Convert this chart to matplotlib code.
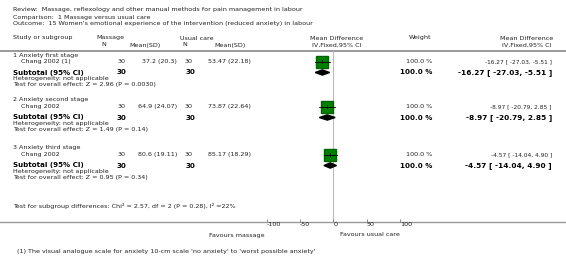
import matplotlib
matplotlib.use("Agg")
import matplotlib.pyplot as plt
from matplotlib.patches import Polygon

W, H = 566, 261
plt.rcParams['font.family'] = ['DejaVu Sans']

title_lines = [
    "Review:  Massage, reflexology and other manual methods for pain management in labour",
    "Comparison:  1 Massage versus usual care",
    "Outcome:  15 Women's emotional experience of the intervention (reduced anxiety) in labour",
]
subgroups = ["1 Anxiety first stage", "2 Anxiety second stage", "3 Anxiety third stage"]
studies = ["Chang 2002 (1)", "Chang 2002", "Chang 2002"]
n_massage = [30, 30, 30]
sd_massage = ["37.2 (20.3)", "64.9 (24.07)", "80.6 (19.11)"]
n_usual = [30, 30, 30]
sd_usual = ["53.47 (22.18)", "73.87 (22.64)", "85.17 (18.29)"]
md = [-16.27, -8.97, -4.57]
lo = [-27.03, -20.79, -14.04]
hi = [-5.51, 2.85, 4.90]
weights = ["100.0 %", "100.0 %", "100.0 %"]
z_tests = ["Z = 2.96 (P = 0.0030)", "Z = 1.49 (P = 0.14)", "Z = 0.95 (P = 0.34)"]
xticks = [-100, -50, 0, 50, 100]
subgroup_test = "Test for subgroup differences: Chi² = 2.57, df = 2 (P = 0.28), I² =22%"
footnote = "(1) The visual analogue scale for anxiety 10-cm scale 'no anxiety' to 'worst possible anxiety'"

fig = plt.figure(figsize=(W / 100, H / 100), dpi=100)
ax = fig.add_axes([0, 0, 1, 1])
ax.set_xlim(0, W)
ax.set_ylim(H, 0)
ax.axis('off')

# forest axes: x data -100..100 maps to px 266..400
x0, x1 = 266.5, 400
ax2 = fig.add_axes([x0 / W, 0, (x1 - x0) / W, 1])
ax2.set_xlim(-100, 100)
ax2.set_ylim(H, 0)
ax2.patch.set_alpha(0)

FS = 4.6
FSB = 5.1
TC = '#222222'

def t(x, y, s, ha='left', size=FS, weight='normal', color=TC):
    ax.text(x, y, s, ha=ha, va='center', fontsize=size, fontweight=weight, color=color)

for i, line in enumerate(title_lines):
    t(13, 10 + 7 * i, line)

t(13, 38, "Study or subgroup")
t(96, 38, "Massage")
t(180, 38, "Usual care")
t(104, 45, "N", ha='center')
t(145, 45, "Mean(SD)", ha='center')
t(185, 45, "N", ha='center')
t(230, 45, "Mean(SD)", ha='center')
t(337, 38, "Mean Difference", ha='center')
t(337, 45, "IV,Fixed,95% CI", ha='center')
t(420, 38, "Weight", ha='center')
t(527, 38, "Mean Difference", ha='center')
t(527, 45, "IV,Fixed,95% CI", ha='center')
ax.plot([0, W], [50.5, 50.5], color='#999999', lw=1.4)

starts = [55, 100, 148]
for i in range(3):
    y = starts[i]
    t(13, y, subgroups[i])
    ys = y + 6.5
    t(21, ys, studies[i])
    t(126, ys, str(n_massage[i]), ha='right')
    t(177, ys, sd_massage[i], ha='right')
    t(193, ys, str(n_usual[i]), ha='right')
    t(251, ys, sd_usual[i], ha='right')
    t(432, ys, weights[i], ha='right')
    t(552, ys, f"{md[i]:.2f} [ {lo[i]:.2f}, {hi[i]:.2f} ]", ha='right', size=4.2)
    yb = y + 17.5
    t(13, yb, "Subtotal (95% CI)", size=FSB, weight='bold', color='black')
    t(126, yb, str(n_massage[i]), ha='right', size=FSB, weight='bold', color='black')
    t(195, yb, str(n_usual[i]), ha='right', size=FSB, weight='bold', color='black')
    t(432, yb, weights[i], ha='right', size=FSB, weight='bold', color='black')
    t(552, yb, f"{md[i]:.2f} [ {lo[i]:.2f}, {hi[i]:.2f} ]", ha='right', size=FSB + 0.2, weight='bold', color='black')
    t(13, yb + 6, "Heterogeneity: not applicable")
    t(13, yb + 12, "Test for overall effect: " + z_tests[i])

    # study square + CI
    ax2.plot([md[i]], [ys], marker='s', markersize=9, color='#008000', mec='#006400', zorder=3)
    ax2.plot([lo[i], hi[i]], [ys, ys], color='black', lw=0.6, zorder=4)
    ax2.plot([md[i], md[i]], [ys - 1.5, ys + 1.5], color='black', lw=0.6, zorder=4)
    # diamond
    dh = 2.6
    ax2.add_patch(Polygon([[lo[i], yb], [md[i], yb - dh], [hi[i], yb], [md[i], yb + dh]],
                          closed=True, color='black', zorder=3))

t(13, 206, subgroup_test)

axis_y = 221.5
ax2.axvline(0, ymin=(H - axis_y) / H, ymax=(H - 50.5) / H, color='#bbbbbb', lw=0.8, zorder=1)
ax.plot([0, W], [axis_y, axis_y], color='#999999', lw=1.0, zorder=0)
ax2.spines['bottom'].set_position(('data', axis_y))
for s in ['top', 'left', 'right', 'bottom']:
    ax2.spines[s].set_visible(False)
ax2.set_yticks([])
ax2.xaxis.set_ticks_position('bottom')
ax2.set_xticks(xticks)
ax2.set_xticklabels([str(v) for v in xticks])
ax2.tick_params(axis='x', direction='in', length=2.5, width=0.6, color='#777777',
                labelsize=FS, labelcolor=TC, pad=0.5)
for lab in ax2.get_xticklabels():
    lab.set_horizontalalignment('left')

t(265, 235, "Favours massage", ha='right')
t(340, 235, "Favours usual care", ha='left')
t(17, 251, footnote)

fig.savefig("out.png", dpi=100)
